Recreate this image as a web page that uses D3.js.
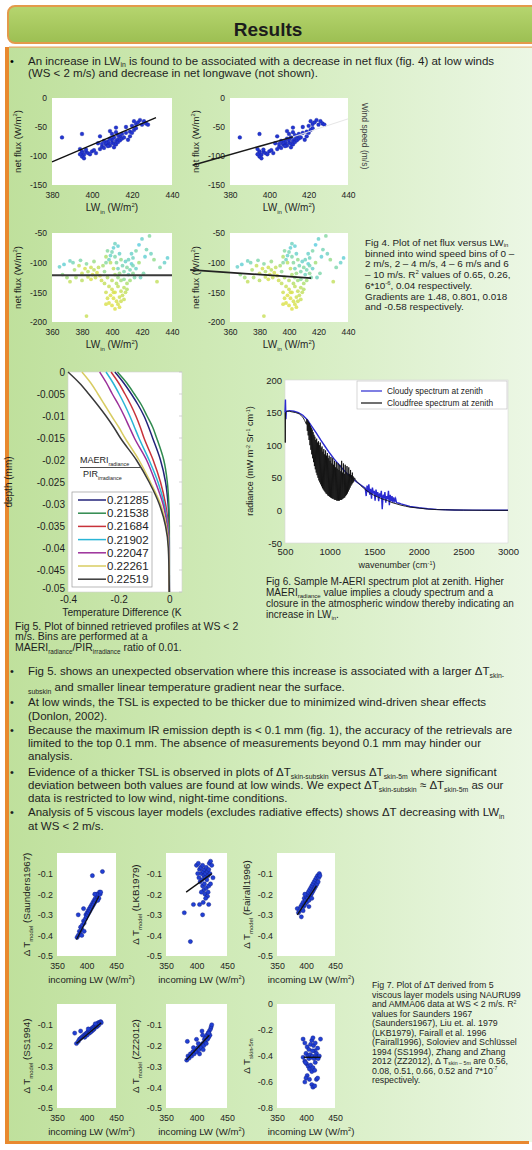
<!DOCTYPE html>
<html><head><meta charset="utf-8">
<script src="https://cdn.jsdelivr.net/npm/d3@7"></script>
<style>
html,body{margin:0;padding:0;background:#fff;}
svg{display:block;font-family:"Liberation Sans",Arial,sans-serif;}
</style></head><body>
<svg id="c" width="532" height="1150"></svg>
<script>
// ---------------- DATA ----------------
// Fig 4: net flux vs LW_in, WS 0-2 m/s  [LWin, netflux]
const netFluxLow = [[385,-68],[395,-62],[394,-88],[395,-92],[395,-95],[396,-98],[395,-101],[396,-104],[394,-97],[397,-93],[398,-95],[400,-92],[402,-95],[401,-90],[404,-88],[405,-84],[406,-86],[404,-66],[407,-80],[408,-78],[408,-75],[409,-82],[410,-77],[410,-72],[411,-79],[411,-68],[412,-74],[412,-80],[413,-71],[413,-76],[414,-66],[414,-73],[410,-62],[409,-57],[412,-59],[413,-64],[415,-70],[415,-62],[416,-68],[417,-60],[418,-72],[419,-66],[419,-58],[420,-60],[421,-55],[422,-52],[420,-48],[417,-50],[412,-51],[422,-45],[423,-42],[424,-38],[426,-40],[427,-44],[428,-46],[425,-46],[421,-40],[407,-77],[406,-74],[403,-78],[409,-70],[411,-85],[405,-79],[399,-97],[397,-89],[408,-83]];
// Fig 4: WS 4-6 / 6-10 m/s  [LWin, netflux, windspeed]
const netFluxHigh = [[365,-107,4.2],[368,-103,4.1],[372,-97,4.3],[375,-112,5.2],[378,-105,5.5],[380,-118,5.6],[382,-110,5.8],[384,-115,5.3],[386,-108,5.7],[387,-120,5.9],[388,-112,5.4],[389,-125,5.6],[390,-117,5.8],[391,-108,5.5],[392,-122,5.9],[393,-130,5.7],[386,-128,5.8],[384,-124,5.6],[380,-130,5.4],[376,-125,5.2],[372,-132,5.5],[370,-125,5.0],[367,-120,4.8],[383,-190,5.6],[374,-100,4.4],[379,-96,4.5],[383,-102,4.6],[388,-98,4.9],[394,-105,5.1],[395,-115,4.8],[396,-100,4.6],[397,-125,5.3],[395,-135,5.5],
[398,-95,4.3],[399,-88,4.2],[400,-82,4.4],[401,-75,4.1],[402,-90,4.5],[403,-100,4.6],[404,-110,4.3],[405,-85,4.2],[406,-95,4.8],[407,-105,4.4],[408,-115,4.5],[409,-98,4.2],[410,-108,4.6],[411,-120,4.3],[412,-112,4.4],[413,-102,4.1],[414,-118,4.7],[415,-125,4.5],[404,-125,4.9],[406,-130,5.0],[408,-128,4.7],[402,-120,5.2],[400,-130,5.4],[398,-140,5.6],[400,-145,5.7],[402,-150,5.8],[404,-140,5.5],[406,-148,5.6],[408,-142,5.4],[410,-135,5.2],[399,-155,5.9],[401,-160,5.9],[403,-165,5.8],[405,-158,5.7],[407,-155,5.6],[409,-150,5.5],[398,-168,5.9],[400,-172,5.95],[402,-178,5.9],[404,-170,5.8],[406,-165,5.7],[408,-162,5.6],[401,-150,5.8],[403,-135,5.3],[397,-160,5.8],[396,-150,5.7],[410,-145,5.3],[412,-130,5.0],[396,-170,5.85],[405,-175,5.9],[397,-80,4.6],[396,-90,5.2],[402,-68,4.3],[404,-72,4.1],[399,-100,5.4],[401,-110,5.5],[405,-118,4.9],[411,-95,4.3],[413,-85,4.2],[414,-105,4.4],
[418,-70,4.0],[420,-60,4.2],[423,-78,4.4],[425,-55,4.6],[426,-85,4.3],[430,-132,5.5],[432,-108,4.5],[435,-100,4.2],[437,-92,4.1],[416,-110,4.2],[418,-100,5.0],[421,-118,4.5],[419,-125,4.3],[428,-95,4.8],[422,-90,4.1],[414,-92,4.3],[416,-80,4.5]];
const fit02 = [[380,-110],[432,-34]];
const fit24 = [[361,-116],[412,-67]];
const fit24ext = [[412,-67],[440,-36]];
const fit46 = [[360,-121],[440,-121]];
const fit610 = [[333,-112],[415,-126]];

// Fig 5: binned retrieved profiles
const depthLevels = [0,-0.0025,-0.005,-0.0075,-0.01,-0.0125,-0.015,-0.02,-0.025,-0.03,-0.035,-0.04,-0.05];
const ratioLabels = ["0.21285","0.21538","0.21684","0.21902","0.22047","0.22261","0.22519"];
const profileColors = ["#23237a","#2f8a4e","#c8323a","#2ab5d6","#9b2f9a","#d8cc62","#3a3a3a"];
const profiles = [
  [-0.215,-0.18,-0.15,-0.123,-0.1,-0.082,-0.066,-0.035,-0.015,-0.005,-0.001,0,0],
  [-0.205,-0.168,-0.138,-0.11,-0.088,-0.066,-0.05,-0.022,-0.008,-0.002,0,0,0],
  [-0.23,-0.2,-0.175,-0.152,-0.132,-0.115,-0.1,-0.064,-0.035,-0.015,-0.004,-0.001,0],
  [-0.25,-0.222,-0.198,-0.176,-0.156,-0.138,-0.12,-0.08,-0.045,-0.02,-0.006,-0.001,0],
  [-0.275,-0.248,-0.225,-0.2,-0.178,-0.158,-0.138,-0.09,-0.055,-0.025,-0.008,-0.002,0],
  [-0.345,-0.31,-0.282,-0.255,-0.228,-0.2,-0.175,-0.12,-0.075,-0.035,-0.012,-0.003,0],
  [-0.4,-0.355,-0.318,-0.283,-0.25,-0.22,-0.193,-0.13,-0.08,-0.04,-0.015,-0.004,0]
];
const depthTicks = [0,-0.005,-0.01,-0.015,-0.02,-0.025,-0.03,-0.035,-0.04,-0.045,-0.05];
const tempTicks = [-0.4,-0.2,0];

// Fig 6: spectra [wavenumber, radiance]
const cloudySpec = [[500,150],[505,170],[510,140],[515,152],[550,153],[600,152],[650,150],[700,146],[750,139],[800,129],[850,119],[900,108],[950,98],[1000,88],[1050,79],[1100,71],[1150,63],[1200,56],[1250,50],[1300,44],[1350,39],[1400,34],[1410,22],[1420,38],[1430,28],[1440,40],[1450,24],[1460,33],[1470,18],[1480,35],[1490,26],[1500,30],[1510,15],[1520,32],[1530,22],[1540,28],[1550,14],[1560,26],[1570,20],[1580,30],[1590,2],[1600,24],[1610,18],[1620,28],[1630,12],[1640,22],[1650,17],[1660,30],[1670,8],[1680,24],[1690,14],[1700,22],[1710,12],[1720,20],[1730,14],[1740,18],[1750,12],[1780,11],[1800,10],[1850,8],[1900,6],[2000,4],[2100,2.5],[2200,1.5],[2400,0.7],[2600,0.4],[3000,0.3]];
const clearSpec = [[500,150],[503,104],[506,150],[520,152],[550,152],[580,151],[620,150],[660,148],[700,143],[720,138],[740,132],
[745,140],[750,122],[755,138],[760,115],[765,136],[770,108],[775,134],[780,100],[785,130],[790,93],[795,127],[800,86],[805,124],[810,80],[815,120],[820,74],[825,116],[830,68],[835,113],[840,63],[845,108],[850,58],[855,110],[860,54],[865,104],[870,50],[875,106],[880,46],[885,100],[890,43],[895,104],[900,40],[905,96],[910,37],[915,98],[920,34],[925,90],[930,32],[935,94],[940,30],[945,86],[950,28],[955,92],[960,26],[965,84],[970,25],[975,88],[980,23],[985,80],[990,22],[995,84],[1000,21],[1005,76],[1010,20],[1015,82],[1020,19],[1025,72],[1030,18],[1035,80],[1040,18],[1045,70],[1050,17],[1055,76],[1060,16],[1065,66],[1070,16],[1075,74],[1080,15],[1085,64],[1090,15],[1095,72],[1100,15],[1105,62],[1110,15],[1115,70],[1120,16],[1125,60],[1130,16],[1135,76],[1140,17],[1145,58],[1150,18],[1155,72],[1160,19],[1165,56],[1170,20],[1175,70],[1180,22],[1185,58],[1190,24],[1195,68],[1200,26],[1205,55],[1210,29],[1215,66],[1220,32],[1225,56],[1230,35],[1235,62],[1240,38],[1245,54],[1250,40],[1255,58],[1260,42],[1265,52],[1270,44],[1280,50],[1290,47],[1300,45],
[1350,38],[1400,32],[1450,27],[1500,23],[1550,20],[1600,17],[1650,15],[1700,12],[1750,10],[1800,8],[1850,6.5],[1900,5],[2000,3.5],[2100,2],[2200,1.2],[2300,0.8],[2500,0.4],[2700,0.2],[3000,0.1]];
const specLegend = ["Cloudy spectrum at zenith","Cloudfree spectrum at zenith"];
const wnTicks = [500,1000,1500,2000,2500,3000];
const radTicks = [-50,0,50,100,150,200];

// Fig 7: viscous layer models [incoming LW, dT]
const modelNames = ["Saunders1967","LKB1979","Fairall1996","SS1994","ZZ2012"];
const saunders = [[384,-0.41],[386,-0.40],[388,-0.38],[389,-0.39],[390,-0.36],[392,-0.37],[393,-0.35],[395,-0.33],[396,-0.34],[398,-0.32],[399,-0.30],[400,-0.31],[401,-0.29],[402,-0.30],[403,-0.28],[404,-0.29],[405,-0.27],[406,-0.28],[407,-0.26],[408,-0.27],[409,-0.25],[410,-0.26],[411,-0.24],[412,-0.25],[413,-0.23],[414,-0.24],[415,-0.22],[416,-0.23],[418,-0.21],[420,-0.20],[421,-0.22],[422,-0.19],[423,-0.20],[424,-0.19],[419,-0.23],[417,-0.20],[414,-0.20],[386,-0.30],[395,-0.27],[410,-0.11],[427,-0.09],[396,-0.38],[392,-0.40]];
const lkb = [[400,-0.06],[403,-0.05],[405,-0.08],[407,-0.07],[408,-0.10],[410,-0.06],[411,-0.09],[412,-0.11],[413,-0.08],[414,-0.12],[415,-0.10],[416,-0.07],[417,-0.13],[418,-0.09],[419,-0.11],[420,-0.08],[421,-0.05],[422,-0.10],[423,-0.04],[425,-0.06],[402,-0.10],[404,-0.12],[406,-0.14],[409,-0.13],[410,-0.16],[412,-0.18],[413,-0.15],[414,-0.20],[416,-0.17],[418,-0.21],[419,-0.19],[420,-0.16],[415,-0.22],[411,-0.24],[405,-0.25],[408,-0.19],[395,-0.25],[380,-0.29],[410,-0.30],[390,-0.43],[420,-0.25],[423,-0.15],[427,-0.12]];
const fairall = [[385,-0.27],[387,-0.29],[389,-0.28],[391,-0.26],[392,-0.31],[393,-0.25],[395,-0.24],[396,-0.26],[397,-0.22],[398,-0.25],[399,-0.23],[400,-0.21],[401,-0.24],[402,-0.20],[403,-0.22],[404,-0.19],[405,-0.23],[406,-0.18],[407,-0.21],[408,-0.17],[409,-0.20],[410,-0.16],[411,-0.19],[412,-0.15],[413,-0.18],[414,-0.14],[415,-0.17],[416,-0.13],[417,-0.16],[418,-0.12],[419,-0.15],[420,-0.11],[421,-0.14],[422,-0.12],[423,-0.10],[424,-0.11],[405,-0.26],[410,-0.22],[398,-0.20],[395,-0.28]];
const ss1994 = [[383,-0.19],[386,-0.18],[388,-0.17],[390,-0.165],[392,-0.16],[394,-0.155],[396,-0.15],[398,-0.145],[400,-0.14],[402,-0.135],[404,-0.13],[406,-0.125],[408,-0.12],[410,-0.115],[412,-0.11],[414,-0.105],[416,-0.10],[418,-0.095],[420,-0.09],[422,-0.09],[424,-0.085],[425,-0.09],[405,-0.14],[409,-0.13],[413,-0.12],[417,-0.11],[419,-0.105],[421,-0.10],[411,-0.125],[407,-0.135],[401,-0.15],[397,-0.16],[380,-0.14],[390,-0.13],[403,-0.12],[415,-0.095]];
const zz2012 = [[384,-0.27],[386,-0.25],[388,-0.26],[390,-0.24],[392,-0.25],[394,-0.23],[396,-0.24],[398,-0.22],[400,-0.23],[402,-0.21],[404,-0.22],[406,-0.20],[408,-0.21],[410,-0.19],[412,-0.20],[413,-0.17],[414,-0.18],[415,-0.16],[416,-0.19],[417,-0.15],[418,-0.17],[419,-0.14],[420,-0.16],[421,-0.13],[422,-0.15],[423,-0.12],[424,-0.11],[425,-0.10],[385,-0.18],[395,-0.21],[400,-0.17],[403,-0.19],[410,-0.15],[409,-0.13],[420,-0.14],[405,-0.24],[411,-0.22]];
const skin5m = [[395,-0.27],[398,-0.30],[402,-0.33],[405,-0.35],[408,-0.31],[410,-0.28],[412,-0.26],[413,-0.32],[415,-0.36],[416,-0.30],[418,-0.38],[420,-0.34],[425,-0.27],[400,-0.38],[403,-0.40],[405,-0.42],[407,-0.39],[409,-0.41],[411,-0.40],[414,-0.42],[417,-0.40],[419,-0.41],[421,-0.42],[423,-0.40],[398,-0.44],[401,-0.46],[404,-0.48],[406,-0.50],[408,-0.47],[410,-0.52],[412,-0.49],[415,-0.51],[402,-0.55],[400,-0.57],[398,-0.60],[406,-0.58],[410,-0.62],[412,-0.64],[415,-0.63],[418,-0.58],[420,-0.57],[399,-0.45],[416,-0.45],[395,-0.41],[411,-0.36]];
const modelFits = [[[383,-0.42],[421,-0.21]],[[383,-0.19],[425,-0.10]],[[385,-0.30],[418,-0.16]],[[383,-0.19],[425,-0.09]],[[383,-0.27],[421,-0.15]],[[396,-0.41],[425,-0.41]]];
const lwTicks = [350,400,450];
const modelTicks = [-0.1,-0.2,-0.3,-0.4,-0.5];
const skinTicks = [0,-0.2,-0.4,-0.6,-0.8];

// ---------------- DRAWING ----------------
const FF = '"Liberation Sans", Arial, sans-serif';
const svg = d3.select('#c');
const defs = svg.append('defs');
const bg = defs.append('linearGradient').attr('id','bg').attr('x1',0).attr('x2',1).attr('y1',0).attr('y2',0);
bg.append('stop').attr('offset','0').attr('stop-color','#bfe09c');
bg.append('stop').attr('offset','0.5').attr('stop-color','#d3ecbd');
bg.append('stop').attr('offset','1').attr('stop-color','#ecf7e5');
const hg = defs.append('linearGradient').attr('id','hg').attr('x1',0).attr('x2',0).attr('y1',0).attr('y2',1);
hg.append('stop').attr('offset','0').attr('stop-color','#b6d56f');
hg.append('stop').attr('offset','1').attr('stop-color','#9cbf52');

// panel background + borders
svg.append('rect').attr('x',6).attr('y',47).attr('width',530).attr('height',1095).attr('fill','url(#bg)');
svg.append('rect').attr('x',9).attr('y',46.5).attr('width',530).attr('height',1.2).attr('fill','#eba462');
svg.append('rect').attr('x',5).attr('y',47).attr('width',4).attr('height',1097).attr('fill','#e8892f');
svg.append('rect').attr('x',5).attr('y',1141).attr('width',524).attr('height',3).attr('fill','#e8892f');
// header
svg.append('rect').attr('x',8).attr('y',6).attr('width',540).attr('height',37).attr('rx',7)
  .attr('fill','url(#hg)').attr('stroke','#e39a4a').attr('stroke-width',2);
svg.append('text').attr('x',268).attr('y',36).attr('text-anchor','middle').attr('font-size',19)
  .attr('font-weight','bold').attr('fill','#1c1c1c').text('Results');

const S = t => ({t, sub:true});
const P = t => ({t, sup:true});
function rich(parent, x, y, parts, o = {}) {
  const fs = o.fs || 9;
  const t = parent.append('text').attr('x',x).attr('y',y).attr('font-size',fs).attr('fill',o.fill||'#1e1e1e');
  if (o.anchor) t.attr('text-anchor',o.anchor);
  if (o.rotate) t.attr('transform',`rotate(${o.rotate},${x},${y})`);
  let shift = 0;
  (Array.isArray(parts)?parts:[parts]).forEach(p => {
    const q = typeof p === 'string' ? {t:p} : p;
    const target = q.sub ? fs*(o.subShift||0.28) : q.sup ? -fs*0.38 : 0;
    const ts = t.append('tspan').attr('dy',(target-shift).toFixed(2)).text(q.t);
    if (q.sub || q.sup) ts.attr('font-size',(fs*0.6).toFixed(2));
    shift = target;
  });
  return t;
}
function axes(g, x, y, xt, yt, o) {
  const bx = g.append('g').attr('transform',`translate(0,${y.range()[0]})`)
    .call(d3.axisBottom(x).tickValues(xt).tickSize(0).tickPadding(o.xpad).tickFormat(d=>String(d)));
  const by = g.append('g').attr('transform',`translate(${x.range()[0]},0)`)
    .call(d3.axisLeft(y).tickValues(yt).tickSize(0).tickPadding(o.ypad).tickFormat(d=>String(d)));
  [bx,by].forEach(a => { a.select('.domain').remove(); a.attr('font-size',o.fs).attr('font-family',FF).style('color','#1e1e1e'); });
  return {bx, by};
}
function box(g, b, stroke) {
  g.append('rect').attr('x',b.x).attr('y',b.y).attr('width',b.w).attr('height',b.h).attr('fill','#fff')
    .attr('stroke',stroke||'none').attr('stroke-width',0.6);
}
const lineGen = (x,y) => d3.line().x(d=>x(d[0])).y(d=>y(d[1]));

// ---- top bullet ----
const bulletG = svg.append('g');
bulletG.append('text').attr('x',10).attr('y',65).attr('font-size',11).text('•');
rich(bulletG, 28, 65, ['An increase in LW', S('in'), ' is found to be associated with a decrease in net flux (fig. 4) at low winds'], {fs:11.5, subShift:0.18});
rich(bulletG, 28, 77, '(WS < 2 m/s) and decrease in net longwave (not shown).', {fs:11.5});

// ---- Fig 4 ----
const wsColor = d3.scaleLinear().domain([4,5,6]).range(['#62cfdf','#a6e07e','#e4e24c']);
function fluxPanel(b, xd, yd, xt, yt, pts, colored, fits) {
  const g = svg.append('g');
  box(g, b);
  const x = d3.scaleLinear().domain(xd).range([b.x, b.x+b.w]);
  const y = d3.scaleLinear().domain(yd).range([b.y+b.h, b.y]);
  axes(g, x, y, xt, yt, {fs:8.5, xpad:7, ypad:5});
  g.append('g').selectAll('circle').data(pts).join('circle')
    .attr('cx',d=>x(d[0])).attr('cy',d=>y(d[1])).attr('r',1.9)
    .attr('fill',d=>colored?wsColor(d[2]):'#2336d2')
    .attr('fill-opacity',colored?0.85:1)
    .attr('stroke',colored?'none':'#142090').attr('stroke-width',0.3);
  fits.forEach(f => g.append('path').datum(f.d).attr('d',lineGen(x,y)).attr('fill','none')
    .attr('stroke',f.c).attr('stroke-width',f.w));
  rich(g, b.x-31, b.y+b.h/2, ['net flux (W/m', P('2'), ')'], {fs:9.6, anchor:'middle', rotate:-90});
  rich(g, b.x+b.w/2, b.y+b.h+26, ['LW', S('in'), ' (W/m', P('2'), ')'], {fs:10, anchor:'middle'});
  return g;
}
fluxPanel({x:52,y:98,w:120,h:87},[380,440],[-150,0],[380,400,420,440],[0,-50,-100,-150],netFluxLow,false,[{d:fit02,c:'#111',w:1.4}]);
fluxPanel({x:230,y:98,w:118,h:87},[380,440],[-150,0],[380,400,420,440],[0,-50,-100,-150],netFluxLow,false,[{d:fit24ext,c:'#e6e6e6',w:1},{d:fit24,c:'#1a1a1a',w:1.5}]);
fluxPanel({x:52,y:233,w:120,h:89},[360,440],[-200,-50],[360,380,400,420,440],[-50,-100,-150,-200],netFluxHigh,true,[{d:fit46,c:'#3a3a3a',w:2}]);
fluxPanel({x:230,y:233,w:118,h:89},[360,440],[-200,-50],[360,380,400,420,440],[-50,-100,-150,-200],netFluxHigh,true,[{d:fit610,c:'#222',w:1.8}]);
rich(svg, 362, 136, 'Wind speed (m/s)', {fs:8.5, anchor:'middle', rotate:90, fill:'#444'});

const f4 = [
  ['Fig 4. Plot of net flux versus LW', S('in')],
  'binned into wind speed bins of 0 –',
  '2 m/s, 2 – 4 m/s, 4 – 6 m/s and 6',
  ['– 10 m/s. R', P('2'), ' values of 0.65, 0.26,'],
  ['6*10', P('-6'), ', 0.04 respectively.'],
  'Gradients are 1.48, 0.801, 0.018',
  'and -0.58  respectively.'
];
f4.forEach((l,i) => rich(svg, 365, 246 + i*10.7, l, {fs:9.9, subShift:0.1}));

// ---- Fig 5 ----
{
  const b = {x:68,y:372,w:114,h:220};
  const g = svg.append('g');
  box(g, b, '#cfcfcf');
  const x = d3.scaleLinear().domain([-0.4,0.05]).range([b.x,b.x+b.w]);
  const y = d3.scaleLinear().domain([-0.05,0]).range([b.y+b.h,b.y]);
  const ax = axes(g, x, y, tempTicks, depthTicks, {fs:10, xpad:4, ypad:3});
  ax.by.selectAll('.tick text').filter(d=>d===-0.05).attr('dy','-0.05em');
  g.append('g').selectAll('line').data(depthTicks).join('line')
    .attr('x1',b.x+b.w).attr('x2',b.x+b.w-3).attr('y1',d=>y(d)).attr('y2',d=>y(d)).attr('stroke','#bbb').attr('stroke-width',0.6);
  const pl = d3.line().x(d=>x(d[0])).y(d=>y(d[1])).curve(d3.curveMonotoneY);
  profiles.forEach((p,i) => {
    g.append('path').datum(p.map((v,j)=>[v,depthLevels[j]])).attr('d',pl)
      .attr('fill','none').attr('stroke',profileColors[i]).attr('stroke-width',1.5);
  });
  // legend
  rich(g, 80, 463, ['MAERI', S('radiance')], {fs:9});
  g.append('line').attr('x1',80).attr('x2',140).attr('y1',467.5).attr('y2',467.5).attr('stroke','#222').attr('stroke-width',0.8);
  rich(g, 83, 477, ['PIR', S('irradiance')], {fs:9});
  g.append('rect').attr('x',72).attr('y',492).attr('width',80).attr('height',95).attr('fill','#fff').attr('stroke','#9a9a9a').attr('stroke-width',0.7);
  ratioLabels.forEach((r,i) => {
    const yy = 500 + i*13.2;
    g.append('line').attr('x1',78).attr('x2',106).attr('y1',yy).attr('y2',yy).attr('stroke',profileColors[i]).attr('stroke-width',1.5);
    g.append('text').attr('x',107).attr('y',yy+4).attr('font-size',11.5).attr('fill','#1e1e1e').text(r);
  });
  rich(g, 12, 482, 'depth (mm)', {fs:10, anchor:'middle', rotate:-90});
  rich(g, 122, 616, 'Temperature Difference (K', {fs:10.2, anchor:'middle'});
  const f5 = ['Fig 5. Plot of binned retrieved profiles at WS < 2','m/s. Bins are performed at a',
    ['MAERI', S('radiance'), '/PIR', S('irradiance'), ' ratio of 0.01.']];
  f5.forEach((l,i) => rich(g, 15, 630 + i*10.4, l, {fs:10.5}));
}

// ---- Fig 6 ----
{
  const b = {x:285,y:380,w:223,h:163};
  const g = svg.append('g');
  box(g, b, '#d6d6d6');
  const x = d3.scaleLinear().domain([500,3000]).range([b.x,b.x+b.w]);
  const y = d3.scaleLinear().domain([-50,200]).range([b.y+b.h,b.y]);
  axes(g, x, y, wnTicks, radTicks, {fs:9.5, xpad:5, ypad:3});
  g.append('path').datum(cloudySpec).attr('d',lineGen(x,y)).attr('fill','none').attr('stroke','#2a2ad0').attr('stroke-width',1.4);
  g.append('path').datum(clearSpec).attr('d',lineGen(x,y)).attr('fill','none').attr('stroke','#111').attr('stroke-width',0.9);
  g.append('rect').attr('x',357).attr('y',381).attr('width',150).attr('height',28).attr('fill','#fff').attr('stroke','#bdbdbd').attr('stroke-width',0.6);
  const lc = ['#2a2ad0','#111'];
  specLegend.forEach((s,i) => {
    const yy = 391 + i*12;
    g.append('line').attr('x1',361).attr('x2',382).attr('y1',yy).attr('y2',yy).attr('stroke',lc[i]).attr('stroke-width',1.2);
    g.append('text').attr('x',387).attr('y',yy+2.8).attr('font-size',8.3).attr('fill','#222').text(s);
  });
  rich(g, 253, 461, ['radiance (mW m', P('-2'), ' Sr', P('-1'), ' cm', P('-1'), ')'], {fs:9, anchor:'middle', rotate:-90});
  rich(g, 397, 568, ['wavenumber (cm', P('-1'), ')'], {fs:9, anchor:'middle'});
  const f6 = ['Fig 6. Sample M-AERI spectrum plot at zenith. Higher',
    ['MAERI', S('radiance'), ' value implies a cloudy spectrum and a'],
    'closure in the atmospheric window thereby indicating an',
    ['increase in LW', S('in'), '.']];
  f6.forEach((l,i) => rich(g, 266, 585 + i*11, l, {fs:10, subShift:0.15}));
}

// ---- bullets ----
{
  const g = svg.append('g');
  const fs = 11.5;
  const lines = [
    {b:true, y:675, p:['Fig 5. shows an unexpected observation where this increase is associated with a larger ΔT', S('skin-')]},
    {y:691, p:[S('subskin'), ' and smaller linear temperature gradient near the surface.']},
    {b:true, y:706, p:'At low winds, the TSL is expected to be thicker due to minimized wind-driven shear effects'},
    {y:720, p:'(Donlon, 2002).'},
    {b:true, y:734, p:'Because the maximum IR emission depth is < 0.1 mm (fig. 1), the accuracy of the retrievals are'},
    {y:747, p:'limited to the top 0.1 mm. The absence of measurements beyond 0.1 mm may hinder our'},
    {y:760, p:'analysis.'},
    {b:true, y:776, p:['Evidence of a thicker TSL is observed in plots of ΔT', S('skin-subskin'), ' versus ΔT', S('skin-5m'), ' where significant']},
    {y:789, p:['deviation between both values are found at low winds. We expect ΔT', S('skin-subskin'), ' ≈ ΔT', S('skin-5m'), ' as our']},
    {y:802, p:'data is restricted to low wind, night-time conditions.'},
    {b:true, y:816, p:['Analysis of 5 viscous layer models (excludes radiative effects)  shows  ΔT decreasing with LW', S('in')]},
    {y:830, p:'at WS < 2 m/s.'}
  ];
  lines.forEach(l => {
    if (l.b) g.append('text').attr('x',10).attr('y',l.y).attr('font-size',11).attr('fill','#1e1e1e').text('•');
    rich(g, 28, l.y, l.p, {fs, subShift:0.22});
  });
}

// ---- Fig 7 ----
const modelSets = [saunders, lkb, fairall, ss1994, zz2012, skin5m];
const cols = [{x:57,w:59},{x:166,w:61},{x:277,w:58}];
const rows = [{y:853,h:103},{y:1004,h:104}];
modelSets.forEach((pts,i) => {
  const c = cols[i%3], r = rows[Math.floor(i/3)];
  const b = {x:c.x, y:r.y, w:c.w, h:r.h};
  const g = svg.append('g');
  box(g, b);
  const isSkin = i === 5;
  const x = d3.scaleLinear().domain([350,450]).range([b.x,b.x+b.w]);
  const y = d3.scaleLinear().domain(isSkin?[-0.8,0]:[-0.5,0]).range([b.y+b.h,b.y]);
  axes(g, x, y, lwTicks, isSkin?skinTicks:modelTicks, {fs:8.8, xpad:6.5, ypad:4});
  g.append('g').selectAll('circle').data(pts).join('circle')
    .attr('cx',d=>x(d[0])).attr('cy',d=>y(d[1])).attr('r',2.1)
    .attr('fill','#2140d4').attr('stroke','#101a78').attr('stroke-width',0.4);
  g.append('path').datum(modelFits[i]).attr('d',lineGen(x,y)).attr('fill','none').attr('stroke','#111').attr('stroke-width',1.3);
  const lab = isSkin ? ['Δ T', S('skin-5m')] : ['Δ T', S('model'), ' (' + modelNames[i] + ')'];
  rich(g, b.x-27, b.y+b.h/2, lab, {fs:9.8, anchor:'middle', rotate:-90});
  rich(g, b.x+b.w/2+5, b.y+b.h+27, ['incoming LW  (W/m', P('2'), ')'], {fs:9.6, anchor:'middle'});
});
const f7 = ['Fig 7. Plot of ΔT derived from 5','viscous layer models using NAURU99',
  ['and AMMA06 data at WS < 2 m/s. R', P('2')],'values for Saunders 1967','(Saunders1967), Liu et. al. 1979',
  '(LKB1979), Fairall et al. 1996','(Fairall1996), Soloviev and Schlüssel','1994 (SS1994), Zhang and Zhang',
  ['2012 (ZZ2012), Δ T', S('skin – 5m'), ' are 0.56,'],['0.08, 0.51, 0.66, 0.52 and 7*10', P('-7')],'respectively.'];
f7.forEach((l,i) => rich(svg, 372, 988 + i*9.5, l, {fs:8.8, subShift:0.15}));
</script>
</body></html>
